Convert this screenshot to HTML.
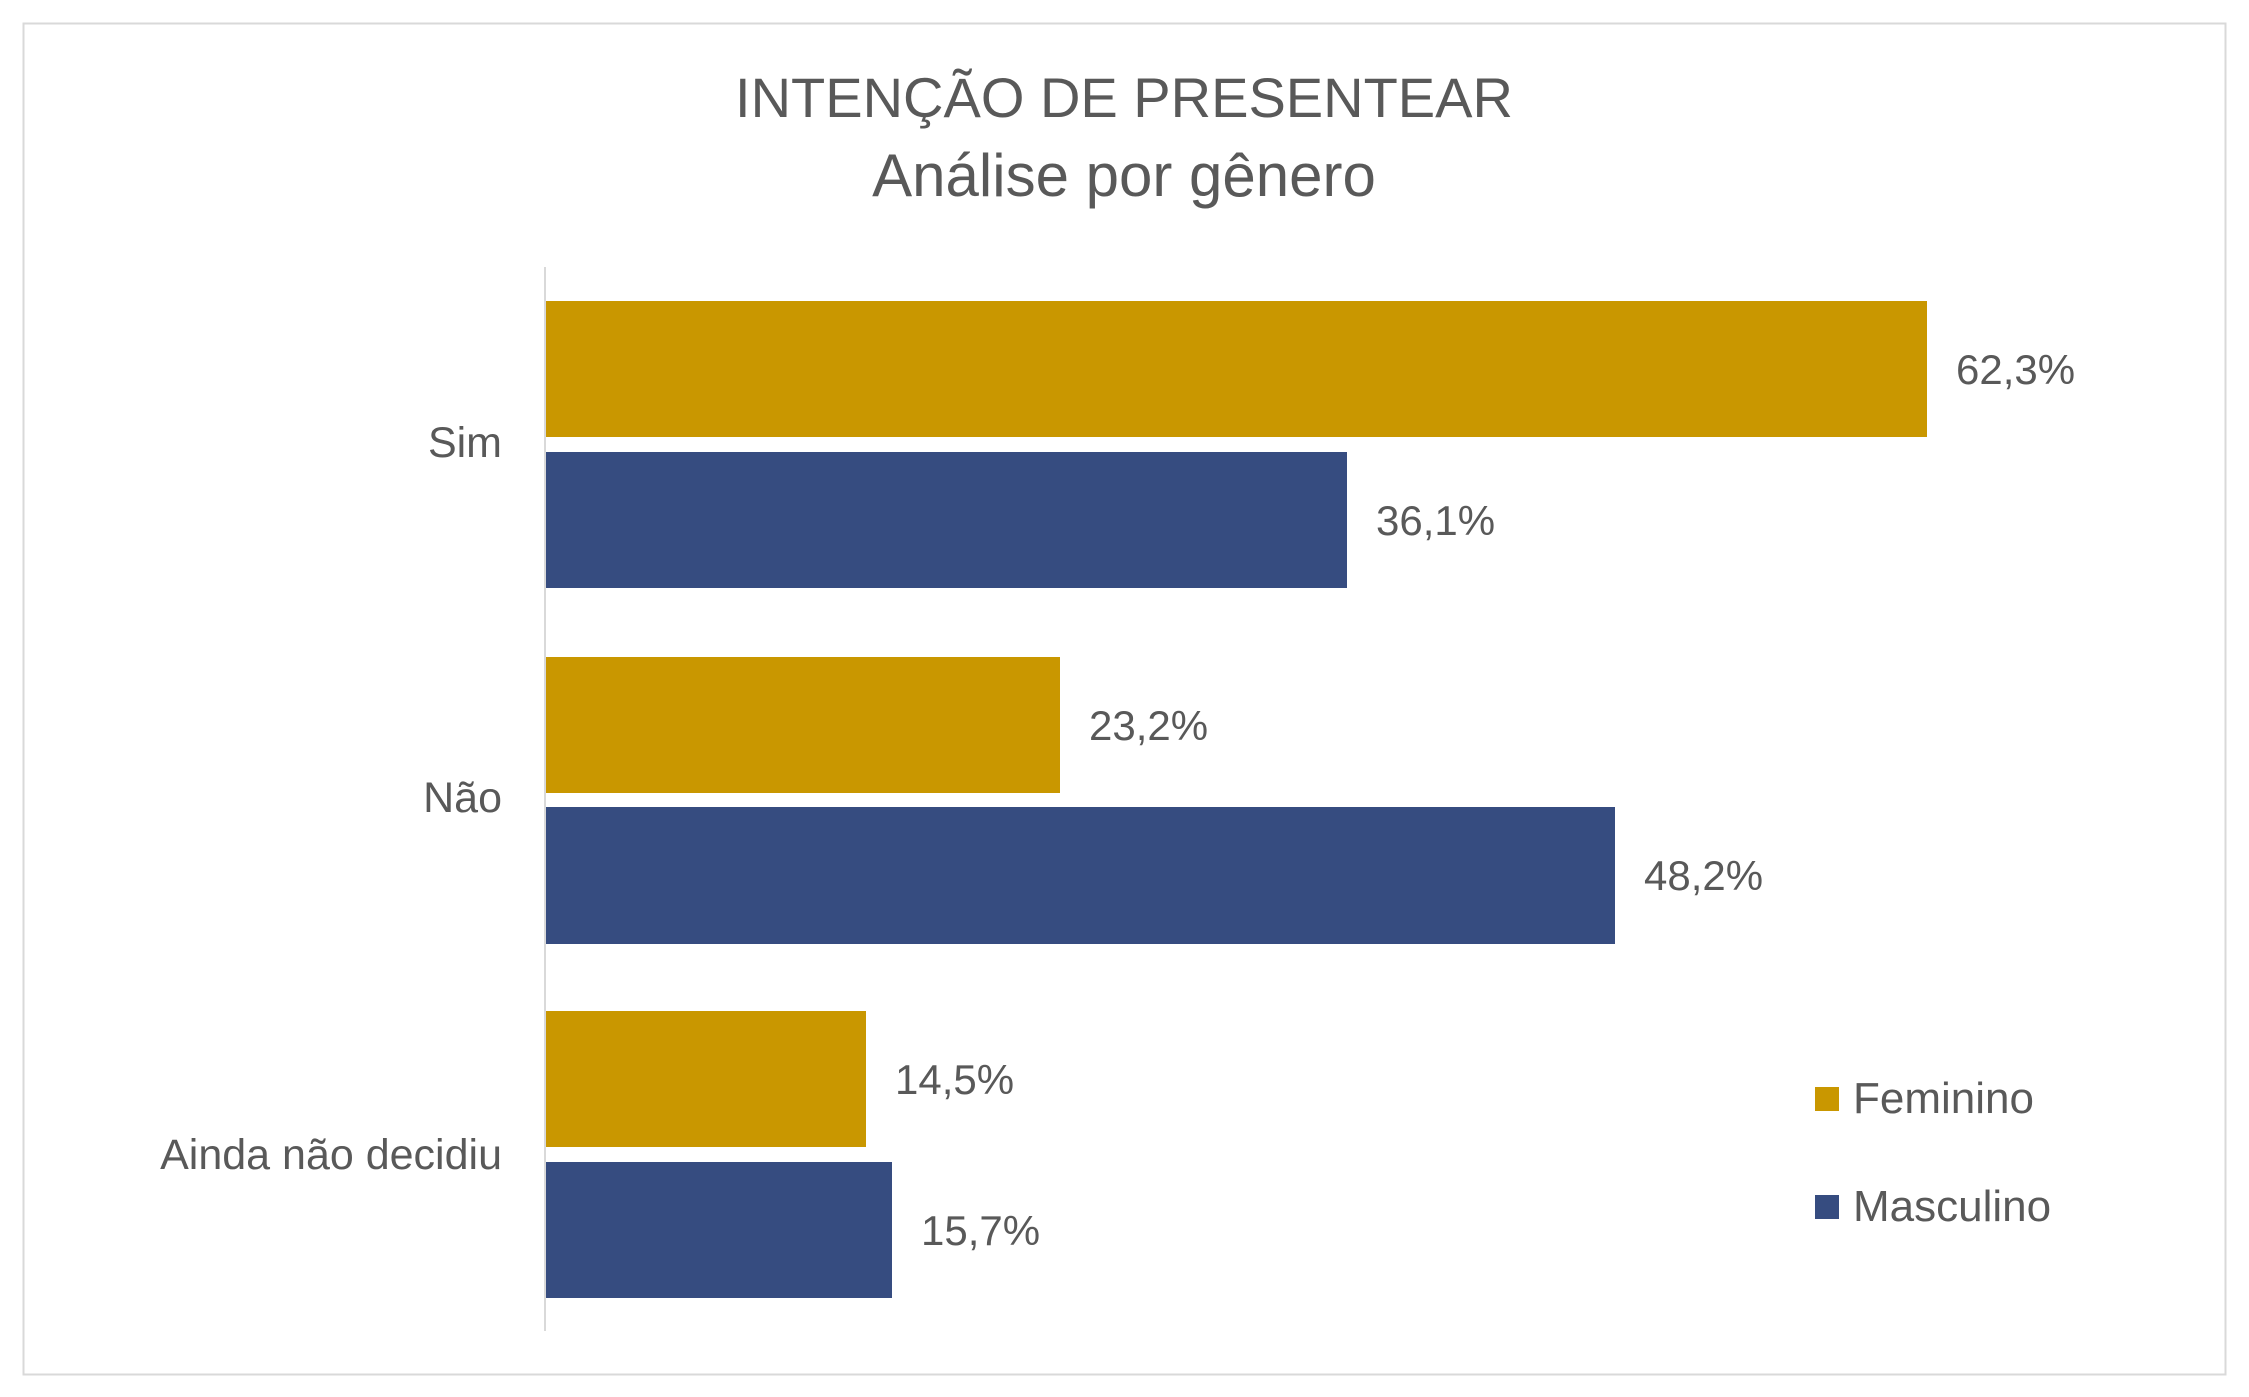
<!DOCTYPE html>
<html><head><meta charset="utf-8"><style>
html,body{margin:0;padding:0;background:#fff;}
svg{display:block;}
text{font-family:"Liberation Sans",sans-serif;fill:#595959;}
</style></head><body>
<svg width="2249" height="1397" viewBox="0 0 2249 1397" xmlns="http://www.w3.org/2000/svg">
<rect x="0" y="0" width="2249" height="1397" fill="#fff"/>
<rect x="23.5" y="23.5" width="2202" height="1351" fill="none" stroke="#d9d9d9" stroke-width="2"/>
<text x="1124" y="117" font-size="56" text-anchor="middle">INTENÇÃO DE PRESENTEAR</text>
<text x="1124" y="196" font-size="60" text-anchor="middle">Análise por gênero</text>
<line x1="545" y1="267" x2="545" y2="1331" stroke="#d9d9d9" stroke-width="2"/>
<rect x="546" y="301" width="1381" height="136" fill="#C99700"/>
<rect x="546" y="452" width="801" height="136" fill="#364C80"/>
<rect x="546" y="657" width="514" height="136" fill="#C99700"/>
<rect x="546" y="807" width="1069" height="137" fill="#364C80"/>
<rect x="546" y="1011" width="320" height="136" fill="#C99700"/>
<rect x="546" y="1162" width="346" height="136" fill="#364C80"/>
<g font-size="42">
<text x="1956" y="384">62,3%</text>
<text x="1376" y="535">36,1%</text>
<text x="1089" y="740">23,2%</text>
<text x="1644" y="890">48,2%</text>
<text x="895" y="1094">14,5%</text>
<text x="921" y="1245">15,7%</text>
</g>
<g font-size="43" text-anchor="end">
<text x="502" y="457">Sim</text>
<text x="502" y="812">Não</text>
<text x="502" y="1169">Ainda não decidiu</text>
</g>
<rect x="1815" y="1087" width="24" height="24" fill="#C99700"/>
<rect x="1815" y="1195" width="24" height="24" fill="#364C80"/>
<g font-size="44">
<text x="1853" y="1113">Feminino</text>
<text x="1853" y="1221">Masculino</text>
</g>
</svg>
</body></html>
